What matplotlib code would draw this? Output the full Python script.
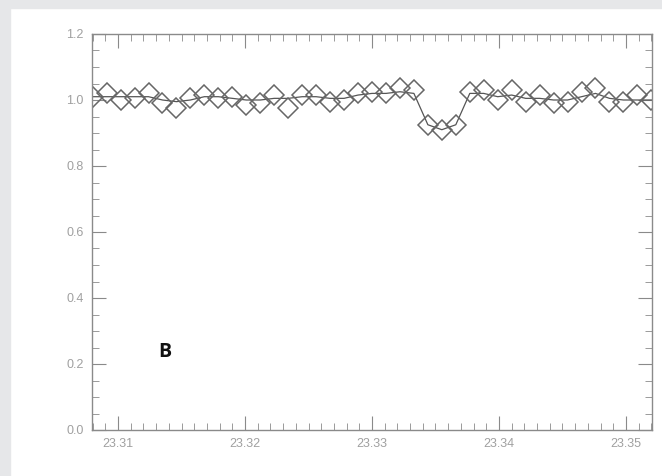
import numpy as np
import matplotlib
matplotlib.use("Agg")
import matplotlib.pyplot as plt
from matplotlib.patches import Rectangle
from matplotlib.ticker import MultipleLocator

# wavelength grid and measured flux (diamonds)
wave = 23.3080 + 0.0011 * np.arange(41)
flux = [1.01, 1.02, 1.00, 1.005, 1.02, 0.99, 0.975, 1.005, 1.015, 1.005,
        1.01, 0.985, 0.99, 1.015, 0.975, 1.015, 1.015, 0.995, 1.00, 1.02,
        1.025, 1.02, 1.035, 1.03, 0.925, 0.91, 0.925, 1.025, 1.03, 1.00,
        1.03, 0.995, 1.015, 0.99, 0.995, 1.025, 1.035, 0.995, 0.995, 1.015,
        1.00]
# model curve
model = [1.01, 1.01, 1.01, 1.01, 1.01, 1.00, 0.995, 1.00, 1.01, 1.01,
         1.005, 1.00, 1.00, 1.005, 1.005, 1.01, 1.01, 1.005, 1.005, 1.015,
         1.02, 1.02, 1.025, 1.02, 0.925, 0.91, 0.925, 1.02, 1.02, 1.01,
         1.015, 1.005, 1.005, 1.00, 1.00, 1.01, 1.02, 1.005, 1.00, 1.00,
         1.00]
xticks = [23.31, 23.32, 23.33, 23.34, 23.35]
yticks = [0.0, 0.2, 0.4, 0.6, 0.8, 1.0, 1.2]

plt.rcParams["font.family"] = ["Liberation Sans", "DejaVu Sans"]

fig = plt.figure(figsize=(6.62, 4.76), dpi=100)
fig.patches.append(Rectangle((0, 0), 10 / 662, 1, transform=fig.transFigure,
                             color="#e6e7e9", zorder=-10))
fig.patches.append(Rectangle((0, 1 - 8 / 476), 1, 8 / 476, transform=fig.transFigure,
                             color="#e6e7e9", zorder=-10))

ax = fig.add_axes([92 / 662, 46 / 476, 560 / 662, 396 / 476])
ax.plot(wave, model, "-", color="#555555", lw=0.9)
ax.plot(wave, flux, "D", ms=10, mfc="none", mec="#666666", mew=1.1, clip_on=True)

ax.set_xlim(23.30795, 23.35205)
ax.set_ylim(0.0, 1.2)
ax.set_xticks(xticks)
ax.set_xticklabels(["%.2f" % v for v in xticks])
ax.set_yticks(yticks)
ax.set_yticklabels(["%.1f" % v for v in yticks])
ax.xaxis.set_minor_locator(MultipleLocator(0.001))
ax.yaxis.set_minor_locator(MultipleLocator(0.05))

for s in ax.spines.values():
    s.set_color("#8a8a8a")
    s.set_linewidth(1.0)
ax.tick_params(which="both", direction="in", top=True, right=True,
               color="#8a8a8a", labelcolor="#a0a0a0", labelsize=9)
ax.tick_params(which="major", length=10, pad=6)
ax.tick_params(which="minor", length=5)

fig.text(165 / 662, 1 - 352 / 476, "B", fontsize=14, fontweight="bold",
         family=["Open Sans", "DejaVu Sans"],
         ha="center", va="center", color="#111111")

fig.savefig("out.png", dpi=100)
